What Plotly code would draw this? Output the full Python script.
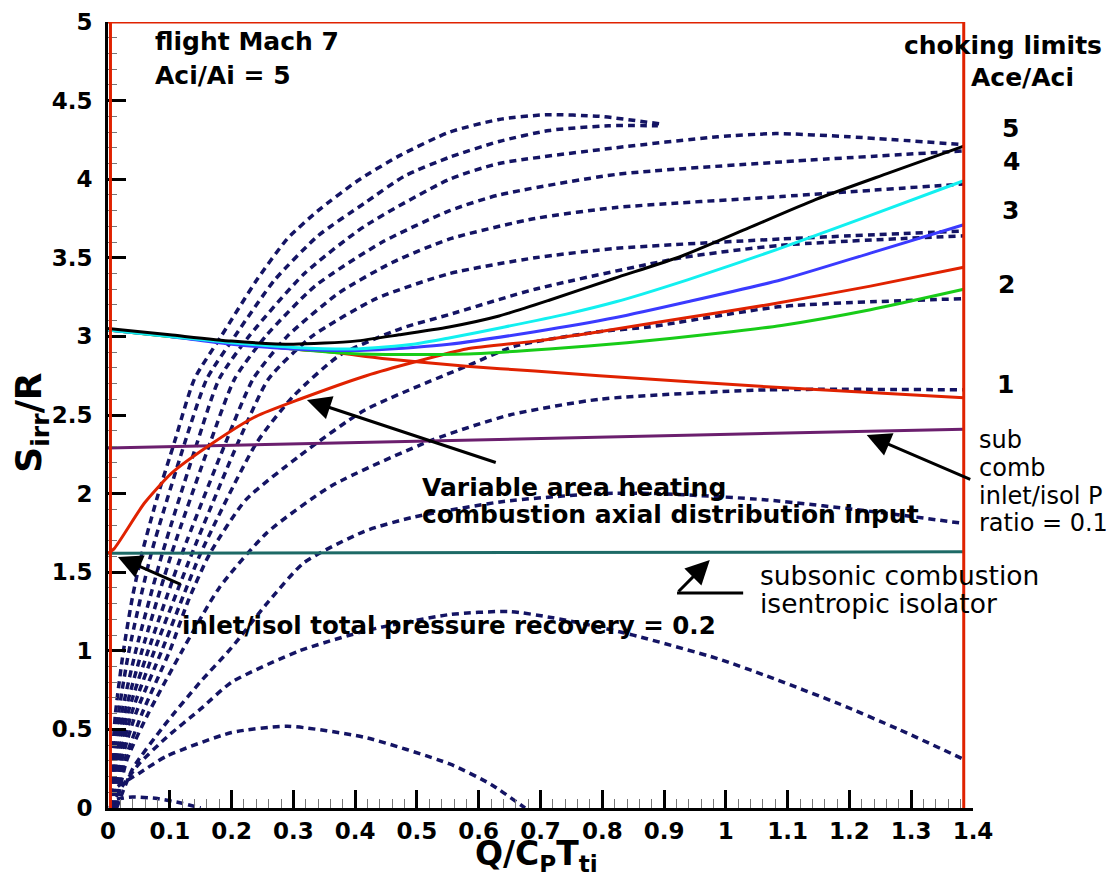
import plotly.graph_objects as go

# ---------------- data ----------------
# dotted family of curves (navy)
A_x = [0.005, 0.007, 0.012, 0.025, 0.04, 0.055, 0.08, 0.107, 0.14, 0.183, 0.241, 0.29, 0.34, 0.404, 0.472, 0.553, 0.633, 0.709, 0.795, 0.897]
A_y = [0.0, 0.3, 0.6, 1.0, 1.35, 1.62, 1.98, 2.32, 2.73, 3.0, 3.36, 3.62, 3.8, 3.99, 4.15, 4.3, 4.38, 4.41, 4.40, 4.35]
B_x = [0.006, 0.009, 0.017, 0.034, 0.07, 0.124, 0.16, 0.205, 0.27, 0.34, 0.416, 0.48, 0.553, 0.633, 0.714, 0.81, 0.89]
B_y = [0.0, 0.3, 0.6, 1.0, 1.62, 2.32, 2.73, 3.0, 3.36, 3.64, 3.85, 4.02, 4.14, 4.24, 4.31, 4.34, 4.34]
C_x = [0.007, 0.011, 0.022, 0.045, 0.088, 0.144, 0.18, 0.228, 0.318, 0.415, 0.553, 0.633, 0.822, 0.987, 1.081, 1.2, 1.385]
C_y = [0.0, 0.3, 0.6, 1.0, 1.62, 2.32, 2.73, 3.0, 3.4, 3.7, 4.0, 4.1, 4.2, 4.27, 4.29, 4.27, 4.22]
D_x = [0.008, 0.013, 0.027, 0.055, 0.103, 0.165, 0.205, 0.255, 0.335, 0.444, 0.553, 0.633, 0.822, 1.09, 1.385]
D_y = [0.0, 0.3, 0.6, 1.0, 1.62, 2.32, 2.73, 3.0, 3.32, 3.6, 3.8, 3.9, 4.03, 4.11, 4.18]
E_x = [0.009, 0.016, 0.032, 0.065, 0.12, 0.19, 0.235, 0.29, 0.375, 0.46, 0.553, 0.691, 0.822, 1.09, 1.385]
E_y = [0.0, 0.3, 0.6, 1.0, 1.62, 2.32, 2.73, 3.0, 3.28, 3.47, 3.62, 3.75, 3.82, 3.89, 3.97]
F_x = [0.01, 0.019, 0.038, 0.075, 0.136, 0.21, 0.26, 0.33, 0.434, 0.553, 0.691, 0.822, 1.09, 1.385]
F_y = [0.0, 0.3, 0.6, 1.0, 1.62, 2.32, 2.73, 3.0, 3.24, 3.4, 3.5, 3.56, 3.62, 3.67]
G_x = [0.011, 0.022, 0.045, 0.087, 0.15, 0.24, 0.3, 0.375, 0.474, 0.553, 0.691, 0.928, 1.09, 1.385]
G_y = [0.0, 0.3, 0.6, 1.0, 1.62, 2.32, 2.62, 2.88, 3.05, 3.14, 3.3, 3.5, 3.58, 3.64]
H1_x = [0.012, 0.027, 0.055, 0.1, 0.13, 0.165, 0.223, 0.31, 0.415, 0.58, 0.66, 0.795, 0.875, 1.09, 1.385]
H1_y = [0.0, 0.3, 0.6, 1.0, 1.32, 1.62, 1.96, 2.24, 2.53, 2.81, 2.94, 3.03, 3.06, 3.19, 3.24]
H_x = [0.013, 0.03, 0.065, 0.12, 0.18, 0.257, 0.362, 0.524, 0.65, 0.795, 1.066, 1.385]
H_y = [0.0, 0.3, 0.6, 1.0, 1.4, 1.75, 2.05, 2.34, 2.5, 2.6, 2.66, 2.66]
I_x = [0.014, 0.04, 0.09, 0.149, 0.2, 0.257, 0.317, 0.415, 0.494, 0.64, 0.795, 0.89, 1.066, 1.25, 1.385]
I_y = [0.0, 0.25, 0.52, 0.8, 1.02, 1.3, 1.56, 1.76, 1.85, 1.95, 2.0, 2.0, 1.96, 1.88, 1.81]
J_x = [0.005, 0.02, 0.05, 0.095, 0.15, 0.2, 0.31, 0.42, 0.552, 0.65, 0.72, 0.796, 0.85, 0.987, 1.066, 1.185, 1.28, 1.385]
J_y = [0.0, 0.12, 0.28, 0.45, 0.63, 0.8, 1.0, 1.13, 1.23, 1.25, 1.21, 1.15, 1.1, 0.95, 0.84, 0.66, 0.5, 0.31]
K_x = [0.005, 0.008, 0.05, 0.095, 0.2, 0.29, 0.415, 0.553, 0.62, 0.675]
K_y = [0.0, 0.11, 0.22, 0.33, 0.48, 0.52, 0.45, 0.28, 0.15, 0.0]
L_x = [0.003, 0.01, 0.04, 0.08, 0.12, 0.15]
L_y = [0.0, 0.05, 0.07, 0.06, 0.03, 0.0]

# choking limit curves (solid)
black_x = [0.0, 0.1, 0.2, 0.3, 0.4, 0.471, 0.552, 0.633, 0.714, 0.82, 0.928, 1.037, 1.145, 1.264, 1.385]
black_y = [3.05, 3.01, 2.97, 2.95, 2.97, 3.01, 3.06, 3.13, 3.23, 3.37, 3.51, 3.69, 3.87, 4.04, 4.21]
cyan_x = [0.0, 0.1, 0.2, 0.3, 0.4, 0.494, 0.552, 0.642, 0.74, 0.822, 0.938, 1.081, 1.234, 1.385]
cyan_y = [3.04, 3.0, 2.96, 2.93, 2.92, 2.95, 2.99, 3.06, 3.14, 3.22, 3.36, 3.55, 3.77, 3.99]
blue_x = [0.0, 0.1, 0.2, 0.3, 0.4, 0.494, 0.552, 0.691, 0.822, 0.938, 1.09, 1.234, 1.385]
blue_y = [3.04, 3.0, 2.95, 2.92, 2.91, 2.93, 2.95, 3.03, 3.12, 3.22, 3.36, 3.53, 3.71]
green_x = [0.0, 0.1, 0.2, 0.3, 0.4, 0.494, 0.592, 0.714, 0.84, 0.987, 1.09, 1.234, 1.385]
green_y = [3.04, 3.0, 2.96, 2.92, 2.89, 2.885, 2.89, 2.92, 2.96, 3.02, 3.07, 3.17, 3.3]
red1_x = [0.0, 0.1, 0.2, 0.3, 0.362, 0.444, 0.58, 0.691, 0.795, 1.066, 1.385]
red1_y = [3.04, 3.0, 2.96, 2.92, 2.9, 2.86, 2.81, 2.78, 2.75, 2.68, 2.61]
# variable area heating curve (red, rising)
varh_x = [0.0, 0.01, 0.059, 0.103, 0.169, 0.239, 0.31, 0.418, 0.499, 0.58, 0.691, 0.795, 0.938, 1.066, 1.234, 1.385]
varh_y = [1.62, 1.65, 1.94, 2.13, 2.32, 2.49, 2.6, 2.75, 2.84, 2.92, 2.97, 3.03, 3.12, 3.2, 3.32, 3.44]
# sub comb inlet/isol P ratio = 0.1 (purple) and isentropic isolator (teal)
purple_x = [0.0, 1.385]
purple_y = [2.29, 2.41]
teal_x = [0.0, 1.385]
teal_y = [1.62, 1.63]

# axis ticks
x_tickvals = [0, 0.1, 0.2, 0.3, 0.4, 0.5, 0.6, 0.7, 0.8, 0.9, 1.0, 1.1, 1.2, 1.3, 1.4]
x_ticktext = ["0", "0.1", "0.2", "0.3", "0.4", "0.5", "0.6", "0.7", "0.8", "0.9", "1", "1.1", "1.2", "1.3", "1.4"]
y_tickvals = [0, 0.5, 1, 1.5, 2, 2.5, 3, 3.5, 4, 4.5, 5]
y_ticktext = ["0", "0.5", "1", "1.5", "2", "2.5", "3", "3.5", "4", "4.5", "5"]

# choking-limit labels at right of the frame
choke_labels = ["5", "4", "3", "2", "1"]
choke_label_x = [1.0428, 1.045, 1.0428, 1.0393, 1.037]   # paper fraction
choke_label_y = [0.8651, 0.8219, 0.7608, 0.6654, 0.5382]  # paper fraction

# ---------------- figure ----------------
NAVY = "#141464"
FONT = "DejaVu Sans"

fig = go.Figure()

dotted = [(A_x, A_y), (B_x, B_y), (C_x, C_y), (D_x, D_y), (E_x, E_y), (F_x, F_y),
          (G_x, G_y), (H1_x, H1_y), (H_x, H_y), (I_x, I_y), (J_x, J_y), (K_x, K_y), (L_x, L_y)]
for xs, ys in dotted:
    fig.add_trace(go.Scatter(x=xs, y=ys, mode="lines",
                             line=dict(color=NAVY, width=3.5, dash="7px,5px", shape="spline", smoothing=0.6),
                             hoverinfo="skip", showlegend=False))

solid = [(purple_x, purple_y, "#6b1f6e"), (teal_x, teal_y, "#1d6a66"),
         (varh_x, varh_y, "#e02200"), (red1_x, red1_y, "#e02200"),
         (green_x, green_y, "#18cc18"), (blue_x, blue_y, "#3a3aff"),
         (cyan_x, cyan_y, "#12f0f0"), (black_x, black_y, "#000000")]
for xs, ys, c in solid:
    fig.add_trace(go.Scatter(x=xs, y=ys, mode="lines",
                             line=dict(color=c, width=3, shape="spline", smoothing=0.6),
                             hoverinfo="skip", showlegend=False))

RED = "#e02200"
shapes = [
    dict(type="line", xref="x", yref="y", x0=0.004, x1=0.004, y0=0, y1=5, line=dict(color=RED, width=3), layer="above"),
    dict(type="line", xref="x", yref="y", x0=0.0, x1=1.385, y0=5, y1=5, line=dict(color=RED, width=3), layer="above"),
    dict(type="line", xref="x", yref="y", x0=1.385, x1=1.385, y0=0, y1=5, line=dict(color=RED, width=3), layer="above"),
    # bent leader of the "subsonic combustion" arrow
    dict(type="line", xref="x", yref="y", x0=0.921, x1=1.028, y0=1.368, y1=1.368, line=dict(color="black", width=3), layer="above"),
]

def txt(x, y, s, size=25, xanchor="left", bold=True, ref="x"):
    return dict(x=x, y=y, xref=ref, yref=("y" if ref == "x" else "paper"),
                text=("<b>%s</b>" % s) if bold else s,
                showarrow=False, xanchor=xanchor, yanchor="middle",
                font=dict(family=FONT, size=size, color="black"))

def arrow(hx, hy, tx, ty):
    return dict(x=hx, y=hy, ax=tx, ay=ty, xref="x", yref="y", axref="x", ayref="y",
                text="", showarrow=True, arrowhead=2, arrowsize=1.6, arrowwidth=3, arrowcolor="black")

ann = [
    txt(0.073, 4.873, "flight Mach 7"),
    txt(0.073, 4.657, "Aci/Ai = 5"),
    txt(1.0347, 0.9707, "choking limits", xanchor="center", ref="paper"),
    txt(1.0578, 0.9288, "Ace/Aci", xanchor="center", ref="paper"),
    txt(1.0046, 0.4682, "sub", size=24, bold=False, ref="paper"),
    txt(1.0046, 0.4326, "comb", size=24, bold=False, ref="paper"),
    txt(1.0046, 0.3969, "inlet/isol P", size=24, bold=False, ref="paper"),
    txt(1.0046, 0.3626, "ratio = 0.1", size=24, bold=False, ref="paper"),
    txt(0.505, 2.042, "Variable area heating"),
    txt(0.505, 1.864, "combustion axial distribution input"),
    txt(1.052, 1.476, "subsonic combustion", size=26.5, bold=False),
    txt(1.052, 1.304, "isentropic isolator", size=26.5, bold=False),
    txt(0.1165, 1.164, "inlet/isol total pressure recovery = 0.2", size=24.5),
    arrow(0.322, 2.595, 0.63, 2.195),
    arrow(1.228, 2.373, 1.398, 2.087),
    arrow(0.016, 1.597, 0.12, 1.419),
    arrow(0.974, 1.578, 0.921, 1.368),
]
for lab, xx, yy in zip(choke_labels, choke_label_x, choke_label_y):
    ann.append(txt(xx, yy, lab, xanchor="center", ref="paper"))

# axis titles
ann.append(dict(x=-0.088, y=0.49, xref="paper", yref="paper", showarrow=False, textangle=-90,
                text="<b>S<sub>irr</sub>/R</b>", xanchor="center", yanchor="middle",
                font=dict(family=FONT, size=36, color="black")))
ann.append(dict(x=0.495, y=-0.031, xref="paper", yref="paper", showarrow=False,
                text="<b>Q/C<sub>P</sub>T<sub>ti</sub></b>", xanchor="center", yanchor="top",
                font=dict(family=FONT, size=33, color="black")))

# the page adds an 8px body margin, so the figure is drawn 8px in from the window edge
fig.update_layout(
    width=1106, height=870,
    margin=dict(l=100, r=141, t=14, b=70, autoexpand=False),
    paper_bgcolor="white", plot_bgcolor="white",
    showlegend=False,
    font=dict(family=FONT, color="black"),
    shapes=shapes, annotations=ann,
)
fig.update_xaxes(range=[0, 1.4], tickmode="array", tickvals=x_tickvals, ticktext=x_ticktext,
                 automargin=False,
                 ticks="inside", ticklen=18, tickwidth=3, tickcolor="black",
                 showline=True, linecolor="black", linewidth=3, showgrid=False, zeroline=False,
                 tickfont=dict(family=FONT, size=23, color="black", weight="bold"),
                 ticklabelstandoff=0,
                 minor=dict(tickmode="linear", tick0=0, dtick=0.02, ticks="inside", ticklen=9,
                            tickwidth=1, tickcolor="#777777", showgrid=False))
fig.update_yaxes(range=[0, 5], tickmode="array", tickvals=y_tickvals, ticktext=y_ticktext,
                 automargin=False,
                 ticks="inside", ticklen=18, tickwidth=3, tickcolor="black",
                 showline=True, linecolor="black", linewidth=3, showgrid=False, zeroline=False,
                 tickfont=dict(family=FONT, size=23, color="black", weight="bold"),
                 ticklabelstandoff=8,
                 minor=dict(tickmode="linear", tick0=0, dtick=0.1, ticks="inside", ticklen=9,
                            tickwidth=1, tickcolor="#777777", showgrid=False))

fig.write_html("out.html")
